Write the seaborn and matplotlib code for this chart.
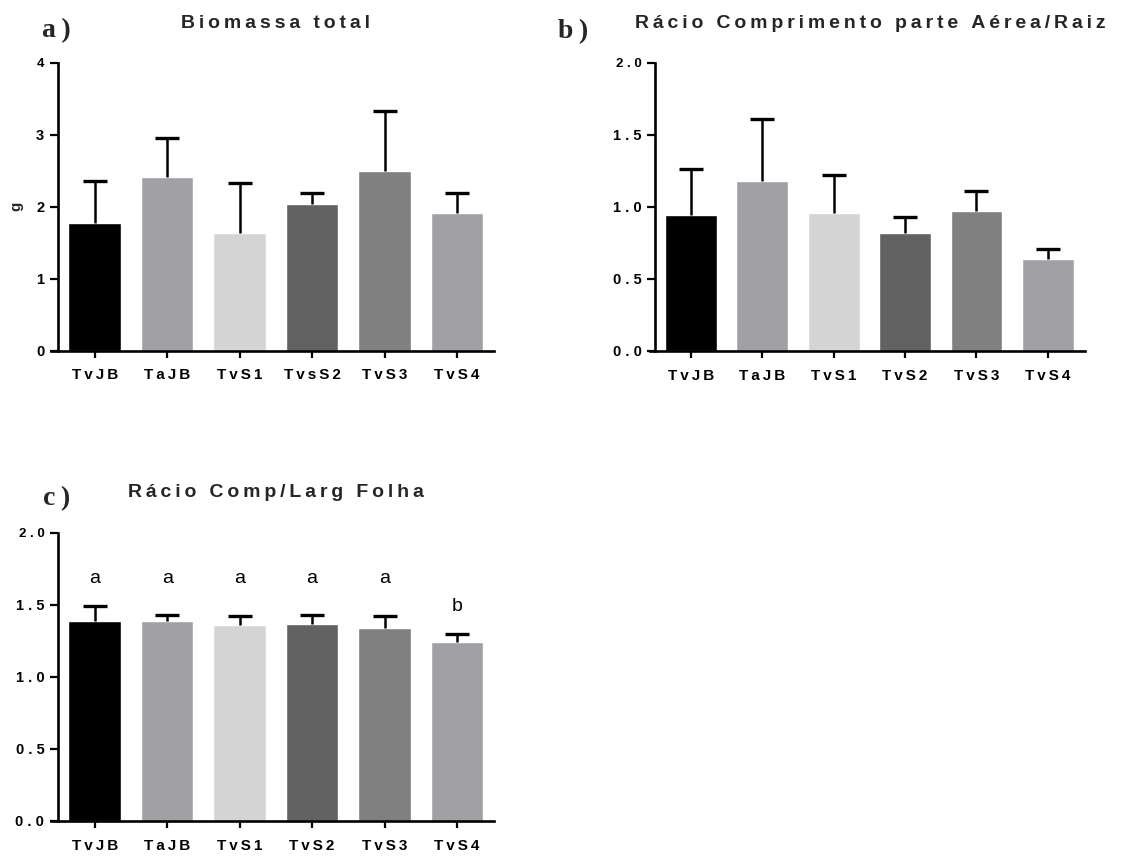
import numpy as np
import pandas as pd
import matplotlib
matplotlib.use("Agg")
import matplotlib.pyplot as plt
import seaborn as sns

# ---- data -------------------------------------------------------------
groups = ["TvJB", "TaJB", "TvS1", "TvS2", "TvS3", "TvS4"]
groups_biomass = ["TvJB", "TaJB", "TvS1", "TvsS2", "TvS3", "TvS4"]
bar_colors = ["#000000", "#a1a1a5", "#d4d4d4", "#626262", "#808080", "#a1a1a5"]

biomass_mean = [1.77, 2.41, 1.63, 2.03, 2.50, 1.91]
biomass_sd = [0.59, 0.54, 0.69, 0.16, 0.83, 0.28]

shoot_root_mean = [0.94, 1.18, 0.96, 0.82, 0.97, 0.64]
shoot_root_sd = [0.32, 0.43, 0.26, 0.11, 0.14, 0.07]

leaf_ratio_mean = [1.39, 1.39, 1.36, 1.37, 1.34, 1.24]
leaf_ratio_sd = [0.10, 0.04, 0.06, 0.06, 0.08, 0.06]
leaf_ratio_letters = ["a", "a", "a", "a", "a", "b"]

titles = ["Biomassa total", "Rácio Comprimento parte Aérea/Raiz", "Rácio Comp/Larg Folha"]
panel_tags = ["a", "b", "c"]

# ---- style ------------------------------------------------------------
sns.set_style("ticks")
plt.rcParams["font.family"] = ["Liberation Sans", "DejaVu Sans"]
plt.rcParams["font.weight"] = "bold"
plt.rcParams["axes.linewidth"] = 1.9
plt.rcParams["axes.edgecolor"] = "black"
plt.rcParams["xtick.color"] = "black"
plt.rcParams["ytick.color"] = "black"

W, H = 1129, 857
fig = plt.figure(figsize=(W / 100, H / 100), dpi=100)


def tracked(text, gap="\u2009"):
    """Wide letter spacing, GraphPad-like."""
    return gap.join(text)


def frame(left, top, right, bottom):
    return [left / W, 1 - bottom / H, (right - left) / W, (bottom - top) / H]


def draw_panel(ax, labels, mean, sd, ymax, yticks, fmt, xlim, spine_px, width_px):
    df = pd.DataFrame({"grupo": labels, "valor": mean})
    sns.barplot(data=df, x="grupo", y="valor", hue="grupo", order=labels,
                hue_order=labels, palette=bar_colors, saturation=1,
                width=0.726, legend=False, ax=ax)
    x = np.arange(len(labels))
    mean = np.asarray(mean)
    # one-sided (upper) SD bars
    _, caps, _ = ax.errorbar(x, mean, yerr=[np.zeros(len(sd)), sd], fmt="none",
                             ecolor="black", elinewidth=1.8, capsize=8.5,
                             capthick=2.4, zorder=3, clip_on=False)
    for cap in caps:
        if np.allclose(cap.get_ydata(), mean):
            cap.set_visible(False)
    sns.despine(ax=ax)
    ax.spines["left"].set_position(("axes", spine_px / width_px))
    ax.set_xlim(*xlim)
    ax.set_ylim(0, ymax)
    ax.set_xticks(x, labels=[tracked(l) for l in labels])
    ax.set_yticks(yticks, labels=[tracked(fmt(t), " ") for t in yticks])
    ax.tick_params(axis="x", length=4.8, width=1.6, pad=8, labelsize=11)
    ax.tick_params(axis="y", length=5.5, width=1.6, pad=4, labelsize=10.5)
    ax.yaxis.get_ticklabels()[-1].set_fontsize(9.5)
    ax.set_xlabel("")
    ax.set_ylabel("")


# panel a
ax_a = fig.add_axes(frame(50.5, 62.5, 494, 350.5))
draw_panel(ax_a, groups_biomass, biomass_mean, biomass_sd, 4, [0, 1, 2, 3, 4],
           lambda t: f"{t:d}", (-0.61, 5.51), 7, 443.5)
ax_a.set_ylabel("g", fontsize=11, fontweight="bold", labelpad=9)

# panel b
ax_b = fig.add_axes(frame(650, 62.5, 1085, 351))
draw_panel(ax_b, groups, shoot_root_mean, shoot_root_sd, 2.0,
           [0.0, 0.5, 1.0, 1.5, 2.0], lambda t: f"{t:.1f}", (-0.57, 5.52), 5, 435)

# panel c
ax_c = fig.add_axes(frame(50.5, 532.7, 494, 821))
draw_panel(ax_c, groups, leaf_ratio_mean, leaf_ratio_sd, 2.0,
           [0.0, 0.5, 1.0, 1.5, 2.0], lambda t: f"{t:.1f}", (-0.61, 5.51), 7, 443.5)

# significance letters above the leaf ratio bars
tops = np.array(leaf_ratio_mean) + np.array(leaf_ratio_sd)
for i, letter in enumerate(leaf_ratio_letters):
    same = [j for j, l in enumerate(leaf_ratio_letters) if l == letter]
    y = tops[same].max() + 0.16
    ax_c.text(i, y, letter, ha="center", va="baseline", fontsize=14,
              fontweight="normal", color="black")

# titles and panel tags
title_pos = [(275.7, 27.5), (870, 28), (276, 497)]
tag_pos = [(42, 36.7), (558, 38.3), (43, 505)]
for title, (tx, ty), tag, (gx, gy) in zip(titles, title_pos, panel_tags, tag_pos):
    fig.text(tx / W, 1 - ty / H, tracked(title), ha="center", va="baseline",
             fontsize=14, fontweight="bold")
    fig.text(gx / W, 1 - gy / H, tag + "\u2009)", ha="left", va="baseline",
             fontsize=20, fontweight="bold",
             family=["Liberation Serif", "DejaVu Serif"])

fig.savefig("out.png", dpi=100)
